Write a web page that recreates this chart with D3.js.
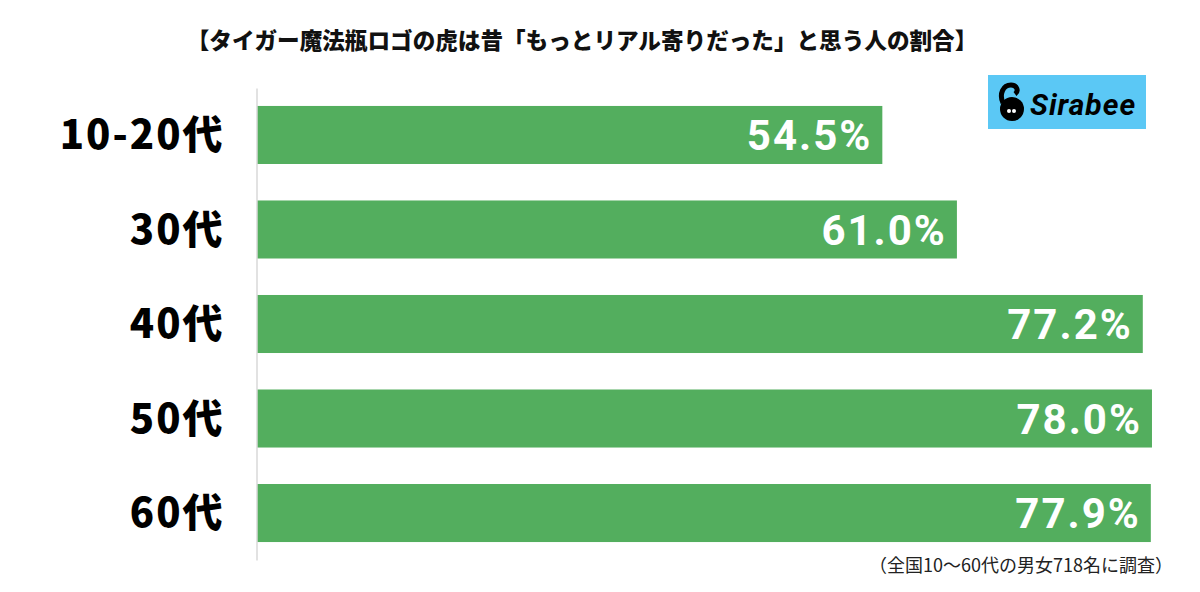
<!DOCTYPE html>
<html>
<head>
<meta charset="utf-8">
<script src="https://cdn.jsdelivr.net/npm/d3@7"></script>
<style>
  body { margin: 0; background: #fff; }
  svg { display: block; }
</style>
</head>
<body>
<svg id="chart" width="1200" height="592"></svg>
<script>
var title = "【タイガー魔法瓶ロゴの虎は昔「もっとリアル寄りだった」と思う人の割合】";
var note = "（全国10～60代の男女718名に調査）";
var categories = ["10-20代", "30代", "40代", "50代", "60代"];
var values = [54.5, 61.0, 77.2, 78.0, 77.9];

var svg = d3.select("#chart");
var width = 1200, height = 592;
var bar_color = "#53ae5e";

var x = d3.scaleLinear().domain([0, 100]).range([257, 1404.4]);
var y = d3.scaleBand()
  .domain(categories)
  .range([88, 560])
  .paddingInner(0.386)
  .paddingOuter(0.19);

// title
svg.append("text")
  .attr("x", 582)
  .attr("y", 49)
  .attr("text-anchor", "middle")
  .attr("font-family", "Noto Sans CJK JP")
  .attr("font-weight", 900)
  .attr("font-size", 22.6)
  .attr("fill", "#111")
  .text(title);

// bars
svg.selectAll("rect.bar")
  .data(values)
  .enter().append("rect")
  .attr("class", "bar")
  .attr("x", x(0))
  .attr("y", function(d, i) { return y(categories[i]); })
  .attr("width", function(d) { return x(d) - x(0); })
  .attr("height", y.bandwidth())
  .attr("fill", bar_color);

// value labels
svg.selectAll("text.val")
  .data(values)
  .enter().append("text")
  .attr("class", "val")
  .attr("x", function(d) { return x(d) - 10; })
  .attr("y", function(d, i) { return y(categories[i]) + y.bandwidth() / 2; })
  .attr("dy", "0.36em")
  .attr("text-anchor", "end")
  .attr("font-family", "Roboto")
  .attr("font-weight", 700)
  .attr("font-size", 42)
  .attr("letter-spacing", 2)
  .attr("fill", "#fff")
  .text(function(d) { return d.toFixed(1) + "%"; });

// category axis
var axis = svg.append("g")
  .attr("transform", "translate(" + 256.5 + ",0)")
  .call(d3.axisLeft(y).tickSize(0).tickPadding(32));
axis.select(".domain").attr("stroke", "#d9d9d9").attr("stroke-width", 1.5);
axis.selectAll(".tick text")
  .attr("font-family", "Noto Sans CJK JP")
  .attr("font-weight", 900)
  .attr("font-size", 40)
  .attr("letter-spacing", 2)
  .attr("fill", "#000")
  .attr("dy", "0.36em");

// logo
var logo = svg.append("g").attr("transform", "translate(988,75)");
logo.append("rect").attr("width", 158).attr("height", 54).attr("fill", "#5bc8f5");
logo.append("circle").attr("cx", 24).attr("cy", 34).attr("r", 12).attr("fill", "#000");
logo.append("path")
  .attr("d", "M15,28 C11,19 15,10 23,10 C29,10 31,16 27,19")
  .attr("fill", "none").attr("stroke", "#000").attr("stroke-width", 5);
logo.append("circle").attr("cx", 21).attr("cy", 36).attr("r", 2).attr("fill", "#fff");
logo.append("circle").attr("cx", 26).attr("cy", 36).attr("r", 2).attr("fill", "#fff");
logo.append("text")
  .attr("x", 42).attr("y", 40)
  .attr("font-family", "Roboto")
  .attr("font-weight", 700)
  .attr("font-style", "italic")
  .attr("font-size", 30)
  .attr("letter-spacing", 1)
  .attr("fill", "#000")
  .text("Sirabee");

// footnote
svg.append("text")
  .attr("x", 1173)
  .attr("y", 572)
  .attr("text-anchor", "end")
  .attr("font-family", "Noto Sans CJK JP")
  .attr("font-size", 18)
  .attr("fill", "#222")
  .text(note);
</script>
</body>
</html>
